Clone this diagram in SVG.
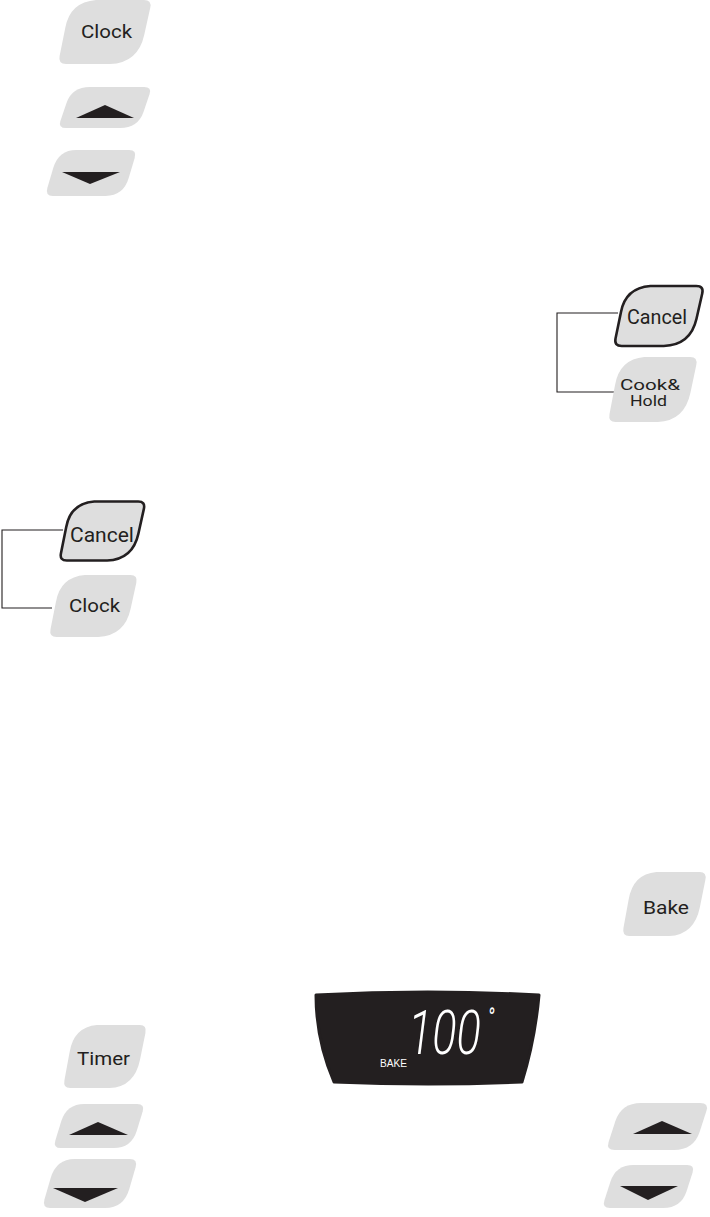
<svg xmlns="http://www.w3.org/2000/svg" xmlns:xlink="http://www.w3.org/1999/xlink" width="710" height="1217" viewBox="0 0 710 1217">
<style>
.key{fill:#dedede}
.sel{fill:#dedede;stroke:#231f20;stroke-width:2.6}
.lbl{font-family:Roboto,"DejaVu Sans",sans-serif;font-weight:400;fill:#231f20}
.arr{fill:#231f20}
.wire{fill:none;stroke:#231f20;stroke-width:1.1}
.disp{fill:#231f20;stroke:#231f20;stroke-width:3;stroke-linejoin:round}
.seg{font-family:Roboto,Inter,"DejaVu Sans",sans-serif;font-weight:300;font-style:italic;fill:#ffffff}
.small{font-family:"Liberation Sans",Arial,sans-serif;fill:#ffffff}
</style>
<defs>
<path id="tall" vector-effect="non-scaling-stroke" d="M38,0 L86,0 Q94,0 92.2,7.9 L86.2,34.4 Q80,62 52,63 L8,63 Q0,63 1.6,55.2 L7.3,27.4 Q12,2 38,0 Z"/>
<path id="short" d="M32,0 L86,0 Q94,0 91.6,7.6 L85.5,26.9 Q80,44 62,44 L8,44 Q0,44 2.4,36.4 L8.5,17.1 Q14,0 32,0 Z"/>
</defs>
<g id="connectors">
<path class="wire" d="M618,313 H557 V392 H616"/>
<path class="wire" d="M63,530 H2 V608 H52"/>
</g>
<g id="clock-top">
<use xlink:href="#tall" href="#tall" class="key" transform="translate(58,0) scale(1,1.016)"/>
<text class="lbl" x="81" y="38" font-size="18" textLength="51" lengthAdjust="spacingAndGlyphs">Clock</text>
</g>
<g id="up-top">
<use xlink:href="#short" href="#short" class="key" transform="translate(58,87) scale(1,0.932)"/>
<polygon class="arr" points="105,105 134,118 76,118"/>
</g>
<g id="down-top">
<use xlink:href="#short" href="#short" class="key" transform="translate(45,150) scale(0.979,1.045)"/>
<polygon class="arr" points="62,172 120,172 90,184"/>
</g>
<g id="cancel-right">
<use xlink:href="#tall" href="#tall" class="sel" transform="translate(614,286) scale(0.957,0.952)"/>
<text class="lbl" x="627" y="324" font-size="21" textLength="60" lengthAdjust="spacingAndGlyphs">Cancel</text>
</g>
<g id="cookhold">
<use xlink:href="#tall" href="#tall" class="key" transform="translate(608,357) scale(0.957,1.032)"/>
<text class="lbl" x="620" y="390" font-size="15.5" textLength="60" lengthAdjust="spacingAndGlyphs">Cook&amp;</text>
<text class="lbl" x="630" y="406" font-size="15.5" textLength="37" lengthAdjust="spacingAndGlyphs">Hold</text>
</g>
<g id="cancel-left">
<use xlink:href="#tall" href="#tall" class="sel" transform="translate(59.5,501.5) scale(0.915,0.937)"/>
<text class="lbl" x="70" y="542" font-size="21" textLength="64" lengthAdjust="spacingAndGlyphs">Cancel</text>
</g>
<g id="clock-left">
<use xlink:href="#tall" href="#tall" class="key" transform="translate(49,575) scale(0.947,0.984)"/>
<text class="lbl" x="69" y="612" font-size="19" textLength="51" lengthAdjust="spacingAndGlyphs">Clock</text>
</g>
<g id="bake">
<use xlink:href="#tall" href="#tall" class="key" transform="translate(622,872) scale(0.904,1.016)"/>
<text class="lbl" x="643" y="914" font-size="19" textLength="46" lengthAdjust="spacingAndGlyphs">Bake</text>
</g>
<g id="display">
<path class="disp" d="M316,995 Q428,989 539,995 Q535,1040 522,1082 Q428,1086 334,1082 Q316,1040 316,995 Z"/>
<text class="seg" transform="translate(408,1054) scale(0.74,1)" font-size="61">100<tspan font-size="26" font-weight="400" dx="9" dy="-28">°</tspan></text>
<text class="small" x="380" y="1067" font-size="11" textLength="27" lengthAdjust="spacingAndGlyphs">BAKE</text>
</g>
<g id="timer">
<use xlink:href="#tall" href="#tall" class="key" transform="translate(63,1025) scale(0.894,1)"/>
<text class="lbl" x="77" y="1065" font-size="17.5" textLength="53" lengthAdjust="spacingAndGlyphs">Timer</text>
</g>
<g id="up-bottom-left">
<use xlink:href="#short" href="#short" class="key" transform="translate(53,1104) scale(0.979,1)"/>
<polygon class="arr" points="98,1122 128,1135 69,1135"/>
</g>
<g id="down-bottom-left">
<use xlink:href="#short" href="#short" class="key" transform="translate(42,1159) scale(1.021,1.114)"/>
<polygon class="arr" points="53,1188 118,1188 85,1202"/>
</g>
<g id="up-bottom-right">
<use xlink:href="#short" href="#short" class="key" transform="translate(606,1103) scale(1.096,1.068)"/>
<polygon class="arr" points="662,1121 692,1134 633,1134"/>
</g>
<g id="down-bottom-right">
<use xlink:href="#short" href="#short" class="key" transform="translate(602,1165) scale(0.989,0.977)"/>
<polygon class="arr" points="620,1186 678,1186 648,1200"/>
</g>
</svg>
